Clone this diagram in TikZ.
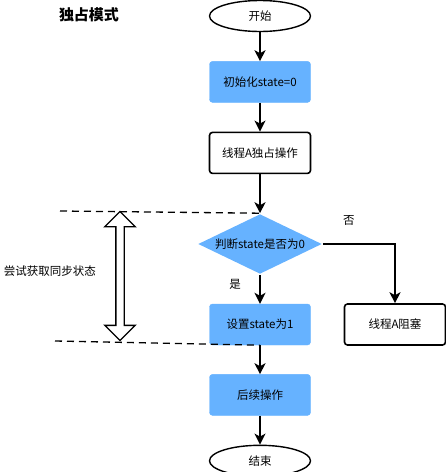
\documentclass[tikz,border=0pt]{standalone}
\usepackage{fontspec}
\setmainfont{Noto Sans CJK SC}
\usetikzlibrary{arrows.meta,positioning,shapes.geometric,shapes.arrows}
\definecolor{stateblue}{HTML}{66B2FF}

\begin{document}
\begin{tikzpicture}[->,>={Stealth[length=11pt,width=11pt,inset=3pt]},x=1pt,y=-1pt,
                    node distance=29pt,line width=1.6pt,
                    font=\fontsize{11.5}{14}\selectfont]
  \tikzstyle{terminal}=[draw,ellipse,minimum width=101pt,minimum height=31pt,line width=1.4pt]
  \tikzstyle{process}=[draw,rounded corners=3pt,minimum width=101pt,minimum height=41pt]
  \tikzstyle{bluebox}=[process,fill=stateblue,draw=stateblue,line width=0.4pt]
  \tikzstyle{decision}=[diamond,aspect=2,fill=stateblue,inner sep=0pt,
                        minimum width=124pt,minimum height=60pt]

  \useasboundingbox (0,0) rectangle (446,472);

  \node[terminal] (start) at (260,16)     {开始};
  \node[bluebox]  (init)  [below=of start] {初始化state=0};
  \node[process]  (own)   [below=of init]  {线程A独占操作};
  \node[decision] (judge) [below=39pt of own] {判断state是否为0};
  \node[bluebox]  (set)   [below=of judge] {设置state为1};
  \node[process]  (block) [right=33pt of set] {线程A阻塞};
  \node[bluebox]  (after) [below=of set]   {后续操作};
  \node[terminal] (end)   [below=of after] {结束};

  \node (title)  at (89,15)  {\fontsize{15}{18}\selectfont\bfseries 独占模式};
  \node (tryget) at (50,271) {尝试获取同步状态};

  % range of the try-acquire step
  \node[double arrow,draw,fill=white,line width=1.4pt,rotate=90,inner sep=3.5pt,
        minimum height=129pt,minimum width=30pt,double arrow head extend=11pt]
        (span) at (120,276) {};
  \coordinate (topl) at (60,211);
  \coordinate (botl) at (55,341);
  \draw[-,line width=1.3pt,dash pattern=on 7pt off 5pt] (topl) -- (judge.north);
  \draw[-,line width=1.3pt,dash pattern=on 7pt off 5pt] (botl) -- (set.south);

  \path (start) edge (init)
        (init)  edge (own)
        (own)   edge (judge)
        (judge) edge node[left=15pt,pos=0.34] {是} (set)
        (set)   edge (after)
        (after) edge (end);
  \draw (judge.east) -| node[pos=0.18,above=14pt] {否} (block.north);

\end{tikzpicture}
\end{document}
